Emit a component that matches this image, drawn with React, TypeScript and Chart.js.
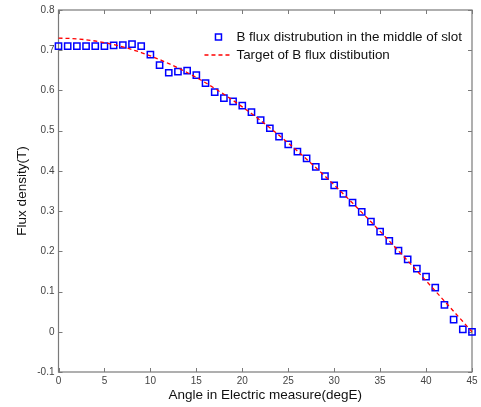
import React, { useEffect, useRef } from "react";
import { Chart, registerables } from "chart.js";

Chart.register(...registerables);

const angles: number[] = [
  0, 1, 2, 3, 4, 5, 6, 7, 8, 9, 10, 11, 12, 13, 14, 15, 16, 17, 18, 19, 20, 21, 22,
  23, 24, 25, 26, 27, 28, 29, 30, 31, 32, 33, 34, 35, 36, 37, 38, 39, 40, 41, 42, 43,
  44, 45,
];

const measured: number[] = [
  0.71, 0.71, 0.71, 0.71, 0.71, 0.71, 0.712, 0.713, 0.715, 0.71, 0.689, 0.663, 0.644,
  0.647, 0.649, 0.638, 0.618, 0.596, 0.581, 0.573, 0.562, 0.546, 0.526, 0.506, 0.485,
  0.466, 0.448, 0.431, 0.41, 0.387, 0.364, 0.343, 0.321, 0.298, 0.274, 0.249, 0.226,
  0.202, 0.18, 0.157, 0.137, 0.11, 0.067, 0.03, 0.006, 0.0,
];

const target: number[] = [
  0.73, 0.7296, 0.7282, 0.726, 0.7229, 0.7189, 0.714, 0.7083, 0.7017, 0.6943, 0.686,
  0.6768, 0.6669, 0.6561, 0.6446, 0.6322, 0.6191, 0.6052, 0.5906, 0.5752, 0.5592,
  0.5425, 0.5251, 0.5071, 0.4885, 0.4692, 0.4494, 0.4291, 0.4082, 0.3868, 0.365,
  0.3427, 0.32, 0.2969, 0.2735, 0.2497, 0.2256, 0.2012, 0.1766, 0.1518, 0.1268, 0.1016,
  0.0763, 0.0509, 0.0255, 0.0,
];

const seriesLabels: string[] = [
  "B flux distrubution in the middle of slot",
  "Target of B flux distibution",
];

const xTitle = "Angle in Electric measure(degE)";
const yTitle = "Flux density(T)";

const FONT = "'Liberation Sans', Arial, Helvetica, sans-serif";

const boxPlugin = {
  id: "matlabBox",
  beforeDatasetsDraw(chart: any) {
    const { ctx, chartArea: a, scales } = chart;
    ctx.save();
    ctx.strokeStyle = "#7a7a7a";
    ctx.lineWidth = 1.2;
    ctx.strokeRect(a.left, a.top, a.right - a.left, a.bottom - a.top);
    ctx.lineWidth = 1;
    const tl = 4;
    ctx.beginPath();
    scales.x.ticks.forEach((t: any) => {
      const px = Math.round(scales.x.getPixelForValue(t.value)) + 0.5;
      ctx.moveTo(px, a.bottom);
      ctx.lineTo(px, a.bottom - tl);
      ctx.moveTo(px, a.top);
      ctx.lineTo(px, a.top + tl);
    });
    scales.y.ticks.forEach((t: any) => {
      const py = Math.round(scales.y.getPixelForValue(t.value)) + 0.5;
      ctx.moveTo(a.left, py);
      ctx.lineTo(a.left + tl, py);
      ctx.moveTo(a.right, py);
      ctx.lineTo(a.right - tl, py);
    });
    ctx.stroke();
    ctx.restore();
  },
  afterDraw(chart: any) {
    const { ctx, chartArea: a } = chart;
    const ds0 = chart.data.datasets[0];
    const ds1 = chart.data.datasets[1];
    ctx.save();
    ctx.font = `13.4px ${FONT}`;
    ctx.fillStyle = "#111";
    ctx.textBaseline = "middle";
    const w = Math.max(
      ctx.measureText(ds0.label).width,
      ctx.measureText(ds1.label).width
    );
    const textX = a.right - 10 - w;
    const y0 = a.top + 27;
    const y1 = a.top + 45;
    ctx.fillText(ds0.label, textX, y0);
    ctx.fillText(ds1.label, textX, y1);
    // marker
    ctx.strokeStyle = ds0.borderColor;
    ctx.lineWidth = ds0.borderWidth;
    ctx.strokeRect(textX - 21, y0 - 3, 6, 6);
    // dashed line
    ctx.strokeStyle = ds1.borderColor;
    ctx.lineWidth = ds1.borderWidth;
    ctx.setLineDash(ds1.borderDash);
    ctx.beginPath();
    ctx.moveTo(textX - 32, y1);
    ctx.lineTo(textX - 5, y1);
    ctx.stroke();
    ctx.restore();
  },
};

export default function App() {
  const canvasRef = useRef<HTMLCanvasElement | null>(null);

  useEffect(() => {
    const canvas = canvasRef.current;
    if (!canvas) return;
    const chart = new Chart(canvas, {
      type: "scatter",
      data: {
        datasets: [
          {
            label: seriesLabels[0],
            data: angles.map((x, i) => ({ x, y: measured[i] })),
            pointStyle: "rect",
            pointRadius: 4.4,
            pointBorderWidth: 1.5,
            borderWidth: 1.5,
            borderColor: "#0000ff",
            backgroundColor: "rgba(0,0,0,0)",
            pointBackgroundColor: "rgba(0,0,0,0)",
            showLine: false,
            clip: false,
            order: 2,
          } as any,
          {
            label: seriesLabels[1],
            data: angles.map((x, i) => ({ x, y: target[i] })),
            showLine: true,
            pointRadius: 0,
            borderColor: "#ff0000",
            borderWidth: 1.3,
            borderDash: [4, 3],
            backgroundColor: "rgba(0,0,0,0)",
            clip: false,
            order: 1,
          } as any,
        ],
      },
      options: {
        responsive: false,
        animation: false,
        devicePixelRatio: 1,
        layout: { padding: { left: 0, right: 9, top: 6, bottom: 0 } },
        plugins: {
          legend: { display: false },
          tooltip: { enabled: false },
        },
        scales: {
          x: {
            type: "linear",
            min: 0,
            max: 45,
            grid: { display: false, drawTicks: false },
            border: { display: false },
            ticks: {
              stepSize: 5,
              padding: 3,
              color: "#444",
              font: { family: FONT, size: 10 },
              maxRotation: 0,
            },
            title: {
              display: true,
              text: xTitle,
              color: "#111",
              font: { family: FONT, size: 13.5 },
              padding: { top: 0, bottom: 4 },
            },
            afterFit: (s: any) => {
              s.height = 35;
            },
          },
          y: {
            type: "linear",
            min: -0.1,
            max: 0.8,
            grid: { display: false, drawTicks: false },
            border: { display: false },
            ticks: {
              stepSize: 0.1,
              padding: 4,
              color: "#444",
              font: { family: FONT, size: 10 },
              callback: (v: any) => String(Number(Number(v).toFixed(1))),
            },
            title: {
              display: true,
              text: yTitle,
              color: "#111",
              font: { family: FONT, size: 13.5 },
              padding: { top: 14, bottom: 0 },
            },
            afterFit: (s: any) => {
              s.width = 58.5;
            },
          },
        },
      },
      plugins: [boxPlugin],
    });
    return () => chart.destroy();
  }, []);

  return (
    <div style={{ position: "absolute", left: 0, top: 0, width: 481, height: 407, background: "#fff" }}>
      <canvas ref={canvasRef} width={481} height={407} style={{ display: "block" }} />
    </div>
  );
}
